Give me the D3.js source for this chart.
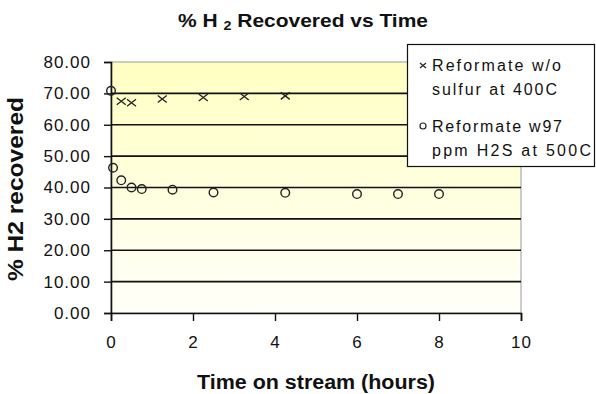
<!DOCTYPE html>
<html>
<head>
<meta charset="utf-8">
<script src="https://cdn.jsdelivr.net/npm/d3@7"></script>
<style>
  body { margin: 0; background: #fff; }
  svg { display: block; font-family: Arial, "Liberation Sans", sans-serif; }
  .tick-label { font-size: 17px; letter-spacing: 1px; fill: #111; }
  .grid-line { stroke: #111; stroke-width: 1.6; }
</style>
</head>
<body>
<svg id="chart"></svg>
<script>
// values
const sulfurFreeTime = [0.25, 0.5, 1.25, 2.25, 3.25, 4.25]
const sulfurFreeH2 = [67.5, 67.0, 68.2, 68.7, 69.0, 69.2]

const h2sTime = [0, 0.05, 0.25, 0.5, 0.75, 1.5, 2.5, 4.25, 6, 7, 8]
const h2sH2 = [70.8, 46.3, 42.3, 40.0, 39.5, 39.3, 38.4, 38.3, 37.9, 37.9, 37.9]

const xTicks = [0, 2, 4, 6, 8, 10]
const yTicks = [0, 10, 20, 30, 40, 50, 60, 70, 80]

const legendLines = [
  ['Reformate w/o', 'sulfur at 400C'],
  ['Reformate w97', 'ppm H2S at 500C']
]

const width = 596, height = 394
const plot = {left: 111, right: 521, top: 62, bottom: 313}

const svg = d3.select('#chart')
  .attr('width', width)
  .attr('height', height)

const xScale = d3.scaleLinear().domain([0, 10]).range([plot.left, plot.right])
const yScale = d3.scaleLinear().domain([0, 80]).range([plot.bottom, plot.top])

// plot background, yellow fading to white
const grad = svg.append('defs').append('linearGradient')
  .attr('id', 'plot-bg')
  .attr('x1', 0).attr('y1', 0).attr('x2', 0).attr('y2', 1)
grad.append('stop').attr('offset', '0%').attr('stop-color', '#ffffc2')
grad.append('stop').attr('offset', '100%').attr('stop-color', '#fffffa')

svg.append('rect')
  .attr('x', plot.left)
  .attr('y', plot.top)
  .attr('width', plot.right - plot.left)
  .attr('height', plot.bottom - plot.top)
  .attr('fill', 'url(#plot-bg)')
  .attr('stroke', '#9a9a9a')
  .attr('stroke-width', 1)

// horizontal grid lines
svg.append('g')
  .selectAll('line')
  .data(yTicks.filter(d => d > 0 && d < 80))
  .join('line')
  .attr('class', 'grid-line')
  .attr('x1', plot.left)
  .attr('x2', plot.right)
  .attr('y1', d => yScale(d))
  .attr('y2', d => yScale(d))

// y axis
const yAxis = d3.axisLeft(yScale)
  .tickValues(yTicks)
  .tickFormat(d3.format('.2f'))
  .tickSize(7)
  .tickPadding(13)

const yAxisNodes = svg.append('g')
  .attr('transform', 'translate(' + plot.left + ',0)')
  .call(yAxis)

yAxisNodes.select('.domain').attr('stroke', '#111').attr('stroke-width', 1.6)
yAxisNodes.selectAll('.tick line').attr('stroke', '#111').attr('stroke-width', 1.4)
yAxisNodes.selectAll('text')
  .attr('class', 'tick-label')
  .attr('font-family', null)
  .attr('font-size', null)

// x axis
const xAxis = d3.axisBottom(xScale)
  .tickValues(xTicks)
  .tickFormat(d3.format('d'))
  .tickSize(8)
  .tickPadding(15)

const xAxisNodes = svg.append('g')
  .attr('transform', 'translate(0,' + plot.bottom + ')')
  .call(xAxis)

xAxisNodes.select('.domain').attr('stroke', '#111').attr('stroke-width', 1.6)
xAxisNodes.selectAll('.tick line').attr('stroke', '#111').attr('stroke-width', 1.4)
xAxisNodes.selectAll('text')
  .attr('class', 'tick-label')
  .attr('font-family', null)
  .attr('font-size', null)

// series: x markers
const crossSize = 4.5
svg.append('g')
  .selectAll('path')
  .data(sulfurFreeTime.map((t, i) => [t, sulfurFreeH2[i]]))
  .join('path')
  .attr('d', d => {
    const cx = xScale(d[0]), cy = yScale(d[1])
    return 'M' + (cx - crossSize) + ',' + (cy - crossSize + 1) + 'L' + (cx + crossSize) + ',' + (cy + crossSize - 1) +
      'M' + (cx - crossSize) + ',' + (cy + crossSize - 1) + 'L' + (cx + crossSize) + ',' + (cy - crossSize + 1)
  })
  .attr('stroke', '#222')
  .attr('stroke-width', 1.3)
  .attr('fill', 'none')

// series: open circles
svg.append('g')
  .selectAll('circle')
  .data(h2sTime.map((t, i) => [t, h2sH2[i]]))
  .join('circle')
  .attr('cx', d => xScale(d[0]))
  .attr('cy', d => yScale(d[1]))
  .attr('r', 4.3)
  .attr('fill', 'none')
  .attr('stroke', '#222')
  .attr('stroke-width', 1.4)

// titles
const title = svg.append('text')
  .attr('x', 303)
  .attr('y', 27)
  .attr('text-anchor', 'middle')
  .attr('font-weight', 'bold')
  .attr('font-size', 19)
  .attr('fill', '#111')
  .attr('textLength', 250)
  .attr('lengthAdjust', 'spacingAndGlyphs')
title.append('tspan').text('% H ')
title.append('tspan').attr('font-size', 13).attr('dy', 3).text('2')
title.append('tspan').attr('dy', -3).text(' Recovered vs Time')

svg.append('text')
  .attr('x', 316)
  .attr('y', 389)
  .attr('text-anchor', 'middle')
  .attr('font-weight', 'bold')
  .attr('font-size', 20)
  .attr('fill', '#111')
  .attr('textLength', 238)
  .attr('lengthAdjust', 'spacingAndGlyphs')
  .text('Time on stream (hours)')

svg.append('text')
  .attr('transform', 'translate(23,189) rotate(-90)')
  .attr('text-anchor', 'middle')
  .attr('font-weight', 'bold')
  .attr('font-size', 22)
  .attr('fill', '#111')
  .attr('textLength', 184)
  .attr('lengthAdjust', 'spacingAndGlyphs')
  .text('% H2 recovered')

// legend
const legend = svg.append('g')

legend.append('rect')
  .attr('x', 407.5)
  .attr('y', 44.5)
  .attr('width', 187)
  .attr('height', 122)
  .attr('fill', '#fff')
  .attr('stroke', '#111')
  .attr('stroke-width', 1.2)

const legendBase = [71, 131.5]
const lineGap = 24
const legendWidths = [[129, 125], [130, 159]]

legendLines.forEach((lines, i) => {
  lines.forEach((line, j) => {
    legend.append('text')
      .attr('x', 432)
      .attr('y', legendBase[i] + j * lineGap)
      .attr('font-size', 16)
      .attr('fill', '#111')
      .attr('textLength', legendWidths[i][j])
      .attr('lengthAdjust', 'spacing')
      .text(line)
  })
})

// legend symbols
const lx = 423
const ly0 = legendBase[0] - 5.5
legend.append('path')
  .attr('d', 'M' + (lx - 3) + ',' + (ly0 - 2.5) + 'L' + (lx + 3) + ',' + (ly0 + 2.5) +
    'M' + (lx - 3) + ',' + (ly0 + 2.5) + 'L' + (lx + 3) + ',' + (ly0 - 2.5))
  .attr('stroke', '#222')
  .attr('stroke-width', 1.2)

legend.append('circle')
  .attr('cx', lx)
  .attr('cy', legendBase[1] - 5.5)
  .attr('r', 3)
  .attr('fill', 'none')
  .attr('stroke', '#222')
  .attr('stroke-width', 1.2)
</script>
</body>
</html>
